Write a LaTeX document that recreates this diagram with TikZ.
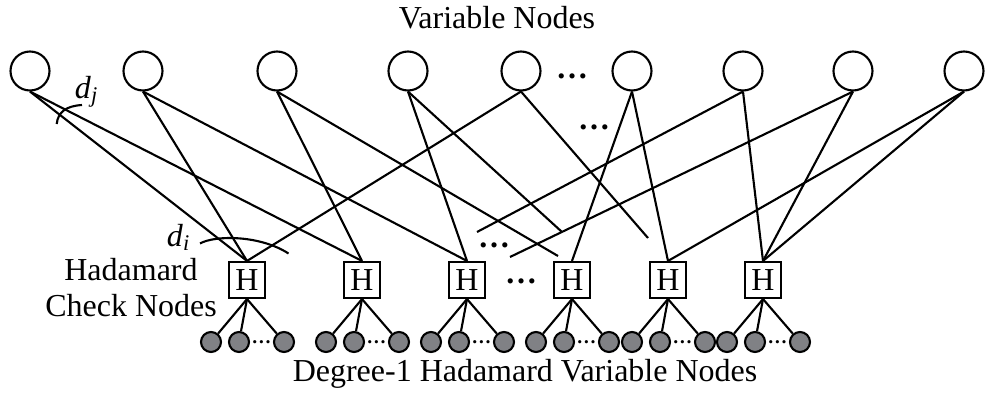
\documentclass[tikz,border=0pt]{standalone}
\usepackage{fontspec}
\setmainfont{Liberation Serif}
\usepackage{xcolor}
\usepackage{tikz}
\usetikzlibrary{positioning}
\definecolor{hadgray}{RGB}{128,129,133}

\begin{document}
\begin{tikzpicture}[
    line width=0.6pt,
    font=\fontsize{9.1pt}{10.25pt}\selectfont,
    varnode/.style={draw, circle, minimum size=0.39cm, inner sep=0pt},
    checknode/.style={draw, rectangle, minimum size=0.36cm, inner sep=0pt},
    leafnode/.style={draw, circle, fill=hadgray, minimum size=0.2cm, inner sep=0pt},
    bigdots/.style={inner sep=0pt, anchor=base, font=\fontsize{9.1pt}{10pt}\selectfont\bfseries},
    smalldots/.style={inner sep=0pt, anchor=base, font=\fontsize{5.6pt}{6pt}\selectfont\bfseries}]
    \useasboundingbox (0,0) rectangle (9.87,4.01);
    % variable nodes
    \foreach \i/\x in {1/0.30, 2/1.43, 3/2.77, 4/4.08, 5/5.21, 6/6.32, 7/7.43, 8/8.53, 9/9.64}
        \node[varnode] (v\i) at (\x,3.30) {};
    % check nodes with their degree-1 nodes
    \foreach \j/\x in {1/2.47, 2/3.62, 3/4.67, 4/5.72, 5/6.68, 6/7.63} {
        \node[checknode] (h\j) at (\x,1.21) {H};
        \node[leafnode] (h\j-a) at (\x-0.36,0.59) {};
        \node[leafnode] (h\j-b) at (\x-0.08,0.59) {};
        \node[leafnode] (h\j-c) at (\x+0.37,0.59) {};
        \node[smalldots] (h\j-dots) at (\x+0.145,0.58) {…};
        \draw (h\j.south) -- (h\j-a);
        \draw (h\j.south) -- (h\j-b);
        \draw (h\j.south) -- (h\j-c);
    }
    % edges
    \foreach \a/\b in {1/1, 1/2, 2/1, 2/3, 3/2, 4/3, 5/1, 6/4, 6/5, 7/6, 8/6, 9/5, 9/6}
        \draw (v\a.south) -- (h\b.north);
    % edges to the omitted check nodes
    \coordinate (e3) at (5.58,1.45);
    \coordinate (e4) at (5.62,1.69);
    \coordinate (e5) at (6.48,1.63);
    \coordinate (e7) at (4.77,1.69);
    \coordinate (e8) at (5.10,1.44);
    \foreach \a in {3,4,5,7,8}
        \draw (v\a.south) -- (e\a);
    % dots
    \node[bigdots] (dots-top) at (5.72,3.22) {…};
    \node[bigdots] (dots-mid) at (5.94,2.71) {…};
    \node[bigdots] (dots-low) at (4.94,1.54) {…};
    \node[bigdots] (dots-h) at (5.21,1.18) {…};
    % labels
    \node (title) at (4.97,3.83) {Variable Nodes};
    \node (bottom) at (5.25,0.27) {Degree-1 Hadamard Variable Nodes};
    \node[align=center] (hlabel) at (1.31,1.13) {Hadamard\\Check Nodes};
    \node (dj) at (0.87,3.09) {\textit{d}\textsubscript{\textit{j}}};
    \node (di) at (1.79,1.64) {\textit{d}\textsubscript{\textit{i}}};
    \draw (0.567,2.77) .. controls (0.58,2.89) and (0.66,2.95) .. (0.82,2.96);
    \draw (2.00,1.575) .. controls (2.15,1.66) and (2.60,1.66) .. (2.885,1.475);
\end{tikzpicture}
\end{document}
